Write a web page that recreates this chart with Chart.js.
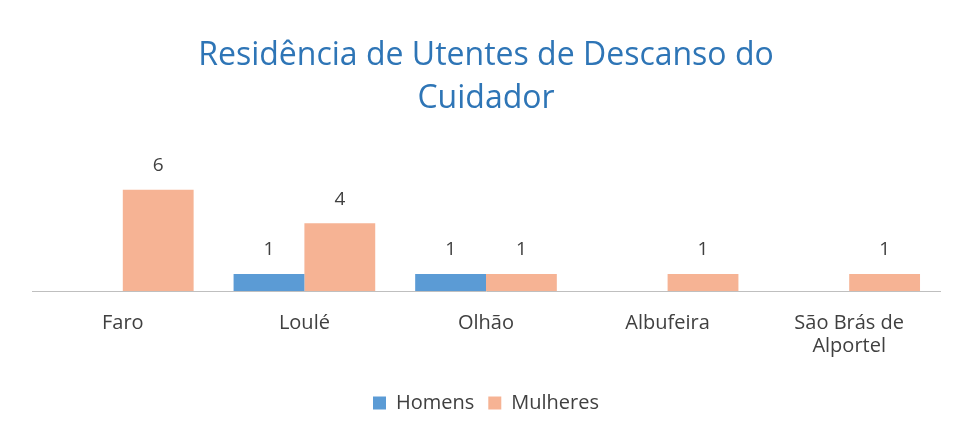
<!DOCTYPE html>
<html>
<head>
<meta charset="utf-8">
<script src="https://cdn.jsdelivr.net/npm/chart.js@4/dist/chart.umd.min.js"></script>
<style>
  html, body { margin: 0; padding: 0; background: #fff; }
  #wrap { width: 968px; height: 441px; }
</style>
</head>
<body>
<div id="wrap"><canvas id="barChart" width="968" height="441"></canvas></div>
<script>
const CATEGORIES = ["Faro", "Loulé", "Olhão", "Albufeira", ["São Brás de", "Alportel"]];
const HOMENS = [0, 1, 1, 0, 0];
const MULHERES = [6, 4, 1, 1, 1];
const COLORS = ["#5B9BD5", "#F6B394"];

// draw the value above each bar, skip zeros
const valueLabels = {
    id: "valueLabels",
    afterDatasetsDraw(chart) {
        const ctx = chart.ctx;
        ctx.save();
        ctx.font = "19px 'Open Sans'";
        ctx.fillStyle = "#404040";
        ctx.textAlign = "center";
        ctx.textBaseline = "middle";
        chart.data.datasets.forEach((ds, i) => {
            chart.getDatasetMeta(i).data.forEach((bar, j) => {
                if (ds.data[j] === 0) return;
                ctx.fillText(ds.data[j], bar.x, bar.y - 24);
            });
        });
        ctx.restore();
    }
};

const context = document.getElementById("barChart").getContext("2d");
const myChart = new Chart(context, {
    type: "bar",
    data: {
        labels: CATEGORIES,
        datasets: [
            { label: "Homens", data: HOMENS, backgroundColor: COLORS[0] },
            { label: "Mulheres", data: MULHERES, backgroundColor: COLORS[1] }
        ]
    },
    options: {
        responsive: false,
        animation: false,
        layout: { padding: { left: 32, right: 28, top: 0, bottom: 18 } },
        datasets: { bar: { barPercentage: 1, categoryPercentage: 0.78 } },
        scales: {
            x: {
                grid: { display: false, drawTicks: false },
                border: { color: "#bfbfbf", width: 1 },
                ticks: { color: "#404040", font: { family: "'Open Sans'", size: 20, lineHeight: 1.15 }, padding: 21 }
            },
            y: { display: false, min: 0, max: 6 }
        },
        plugins: {
            title: {
                display: true,
                text: ["Residência de Utentes de Descanso do", "Cuidador"],
                color: "#2E75B6",
                font: { family: "'Open Sans'", size: 32, weight: "normal", lineHeight: 1.35 },
                padding: { top: 34, bottom: 69 }
            },
            legend: {
                position: "bottom",
                labels: {
                    color: "#404040",
                    font: { family: "'Open Sans'", size: 20 },
                    boxWidth: 13, boxHeight: 13, padding: 14
                }
            },
            tooltip: { enabled: false }
        }
    },
    plugins: [valueLabels]
});
</script>
</body>
</html>
